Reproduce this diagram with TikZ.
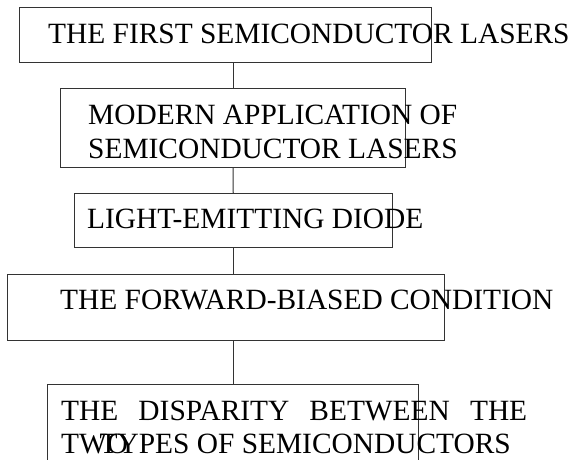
\documentclass[tikz,border=0pt]{standalone}
\usepackage{fontspec}
\setmainfont{Liberation Serif}
\begin{document}
\begin{tikzpicture}[x=1pt,y=-1pt,
  box/.style={draw=black!80, line width=1pt, rectangle, inner sep=0pt, anchor=north west},
  txt/.style={anchor=base west, inner sep=0pt, font=\fontsize{29.4}{34}\selectfont},
  txtr/.style={txt, anchor=base east},
  link/.style={draw=black!80, line width=1pt}]
\useasboundingbox (0,0) rectangle (570,459);
\clip (0,0) rectangle (570,459);
% boxes
\node[box, minimum width=412pt, minimum height=55pt] (b1) at (19,7) {};
\node[box, minimum width=345pt, minimum height=79pt] (b2) at (60,88) {};
\node[box, minimum width=318.5pt, minimum height=54pt] (b3) at (73.5,193) {};
\node[box, minimum width=437pt, minimum height=66pt] (b4) at (7,274) {};
\node[box, minimum width=371pt, minimum height=100pt] (b5) at (47,384) {};
% connectors
\draw[link] (b2.north |- b1.south) -- (b2.north);
\draw[link] (b2.south) -- (b3.north);
\draw[link] (b3.south) -- (b3.south |- b4.north);
\draw[link] (b5.north |- b4.south) -- (b5.north);
% texts
\node[txt] (t1) at (48,43) {THE FIRST SEMICONDUCTOR LASERS};
\node[txt] (t2a) at (88,124) {MODERN APPLICATION OF};
\node[txt] (t2b) at (88,158) {SEMICONDUCTOR LASERS};
\node[txt] (t3) at (87,228) {LIGHT-EMITTING DIODE};
\node[txt] (t4) at (60,309) {THE FORWARD-BIASED CONDITION};
\node[txt] (t5a) at (61,420) {\makebox[466pt][s]{THE DISPARITY BETWEEN THE}};
\node[txt] (t5b) at (61,453) {TWO};
\node[txtr] (t5c) at (511,453) {TYPES OF SEMICONDUCTORS};
\end{tikzpicture}
\end{document}
